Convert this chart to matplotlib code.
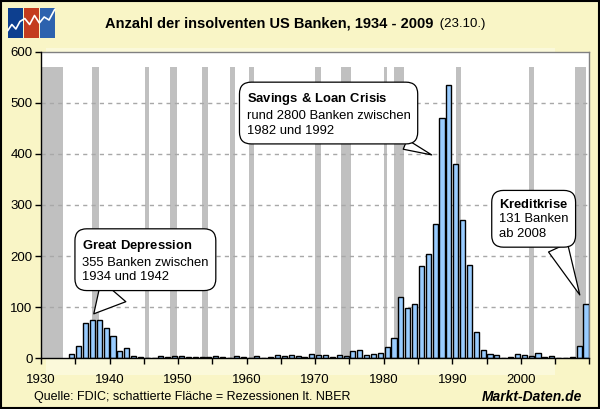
"""Insolvent US banks per year, 1934-2009, with NBER recessions shaded."""

import matplotlib

matplotlib.use("Agg")
from matplotlib import pyplot as plt
from matplotlib.patches import Rectangle

plt.rcParams["font.family"] = ["Liberation Sans", "DejaVu Sans"]
plt.rcParams["mathtext.fontset"] = "custom"
plt.rcParams["mathtext.rm"] = "Liberation Sans"
plt.rcParams["mathtext.bf"] = "Liberation Sans:bold"

# --- data -----------------------------------------------------------------
years = list(range(1934, 2010))
failures = [
    9, 25, 69, 75, 74, 60, 43, 15, 20, 5,          # 1934-1943
    2, 1, 1, 5, 3, 4, 4, 2, 3, 2,                  # 1944-1953
    2, 5, 2, 1, 4, 3, 1, 5, 1, 2,                  # 1954-1963
    7, 5, 7, 4, 3, 9, 7, 6, 2, 6,                  # 1964-1973
    4, 14, 17, 6, 8, 10, 22, 40, 119, 99,          # 1974-1983
    106, 180, 204, 262, 470, 534, 381, 271, 182, 51,  # 1984-1993
    16, 8, 6, 1, 3, 8, 7, 4, 11, 3,                # 1994-2003
    4, 0, 0, 3, 25, 106,                           # 2004-2009
]

# NBER recessions as decimal years (start, end)
recession_start = [1929.6, 1937.4, 1945.1, 1948.8, 1953.5, 1957.6, 1960.3,
                   1969.9, 1973.8, 1980.0, 1981.5, 1990.5, 2001.2, 2007.9]
recession_end = [1933.2, 1938.5, 1945.8, 1949.8, 1954.4, 1958.3, 1961.1,
                 1970.9, 1975.2, 1980.5, 1982.9, 1991.2, 2001.9, 2009.5]
recession_top = 570

callout_titles = [r"$\mathbf{Great\ Depression}$", r"$\mathbf{Savings\ &\ Loan\ Crisis}$",
                  r"$\mathbf{Kreditkrise}$"]
callout_bodies = ["355 Banken zwischen\n1934 und 1942",
                  "rund 2800 Banken zwischen\n1982 und 1992",
                  "131 Banken\nab 2008"]
callout_tips = [(1937.7, 87), (1987.0, 398), (2008.6, 124)]
callout_text_pos = [(1936.0, 191), (1960.0, 478), (1996.8, 273)]
callout_relpos = [(0.3, 0.0), (0.85, 0.0), (0.8, 0.0)]
callout_tail = [2.5, 0.8, 1.6]

BG = "#F9F5C6"
PANEL = "#FBF9DA"

# --- figure ---------------------------------------------------------------
fig = plt.figure(figsize=(6.0, 4.09), dpi=100, facecolor=BG)
W, H = 600, 409


def fig_box(x0, y0, x1, y1):
    """Pixel box (top-left origin) -> figure fraction rect."""
    return [x0 / W, 1 - y1 / H, (x1 - x0) / W, (y1 - y0) / H]


fig.patches.append(Rectangle((46 / W, 1 - 375 / H), 509 / W, 327 / H,
                             transform=fig.transFigure, facecolor=PANEL,
                             edgecolor="none", zorder=-1))
fig.patches.append(Rectangle((0.001, 0.002), 0.997, 0.996,
                             transform=fig.transFigure, facecolor="none",
                             edgecolor="black", linewidth=1.5, zorder=10))

ax = fig.add_axes(fig_box(41, 51.7, 589.4, 358.3))
ax.set_facecolor("white")

for start, end in zip(recession_start, recession_end):
    ax.add_patch(Rectangle((start, 0), end - start, recession_top,
                           facecolor="#C0C0C0", edgecolor="none", zorder=1))

ax.bar([y + 0.5 for y in years], failures, width=0.74,
       color="#99CCFF", edgecolor="black", linewidth=1.0, zorder=3)

ax.set_xlim(1930, 2010)
ax.set_ylim(0, 600)
ax.set_yticks(range(0, 601, 100))
ax.set_xticks(range(1930, 2011, 5))
ax.set_xticklabels([str(y) if y % 10 == 0 and y < 2010 else "" for y in range(1930, 2011, 5)])
ax.tick_params(axis="both", direction="out", length=4, width=1, labelsize=9.5,
               colors="black")
ax.tick_params(axis="x", pad=7)
ax.tick_params(axis="y", pad=2)
for value in range(100, 600, 100):
    ax.axhline(value, color="#A8A8A8", linewidth=1, dashes=(3, 3), zorder=2)

for side in ("top", "right"):
    ax.spines[side].set_color("#808080")
    ax.spines[side].set_linewidth(1)
for side in ("left", "bottom"):
    ax.spines[side].set_color("black")
    ax.spines[side].set_linewidth(1)
    ax.spines[side].set_zorder(4)

for title, body, tip, pos, relpos, tail in zip(callout_titles, callout_bodies, callout_tips,
                                                callout_text_pos, callout_relpos, callout_tail):
    ax.annotate(
        title + "\n" + body, xy=tip, xytext=pos, textcoords="data", ha="left", va="center",
        fontsize=9.4, linespacing=1.3, zorder=6,
        bbox=dict(boxstyle="round,pad=0.55,rounding_size=0.9", facecolor="white",
                  edgecolor="black", linewidth=0.9),
        arrowprops=dict(arrowstyle=f"wedge,tail_width={tail}", facecolor="white",
                        edgecolor="black", linewidth=0.9, relpos=relpos,
                        shrinkA=0, shrinkB=0),
    )

# --- title, logo, footer ----------------------------------------------------
fig.text(105 / W, 1 - 24 / H, "Anzahl der insolventen US Banken, 1934 - 2009",
         fontsize=10.5, fontweight="bold", va="center", ha="left")
fig.text(436 / W, 1 - 24 / H, " (23.10.)", fontsize=9.5, va="center", ha="left")

logo = fig.add_axes(fig_box(7, 8, 55.5, 38))
logo.set_xlim(0, 3)
logo.set_ylim(0, 1)
logo.axis("off")
for i, colour in enumerate(["#0D3F8F", "#C43C1E", "#2D62AE"]):
    logo.add_patch(Rectangle((i + 0.04, 0), 0.92, 1, facecolor=colour, edgecolor="none"))
logo.plot([0.05, 0.3, 0.55, 0.8, 1.1, 1.4, 1.7, 2.0, 2.3, 2.6, 2.95],
          [0.25, 0.45, 0.3, 0.55, 0.65, 0.45, 0.75, 0.5, 0.7, 0.6, 0.95],
          color="white", linewidth=1.2)

fig.text(34 / W, 1 - 397 / H, "Quelle: FDIC; schattierte Fläche = Rezessionen lt. NBER",
         fontsize=9, va="center", ha="left")
fig.text(582 / W, 1 - 397 / H, "Markt-Daten.de", fontsize=10, fontweight="bold",
         fontstyle="italic", va="center", ha="right")

fig.savefig("out.png", dpi=100, facecolor=BG)
